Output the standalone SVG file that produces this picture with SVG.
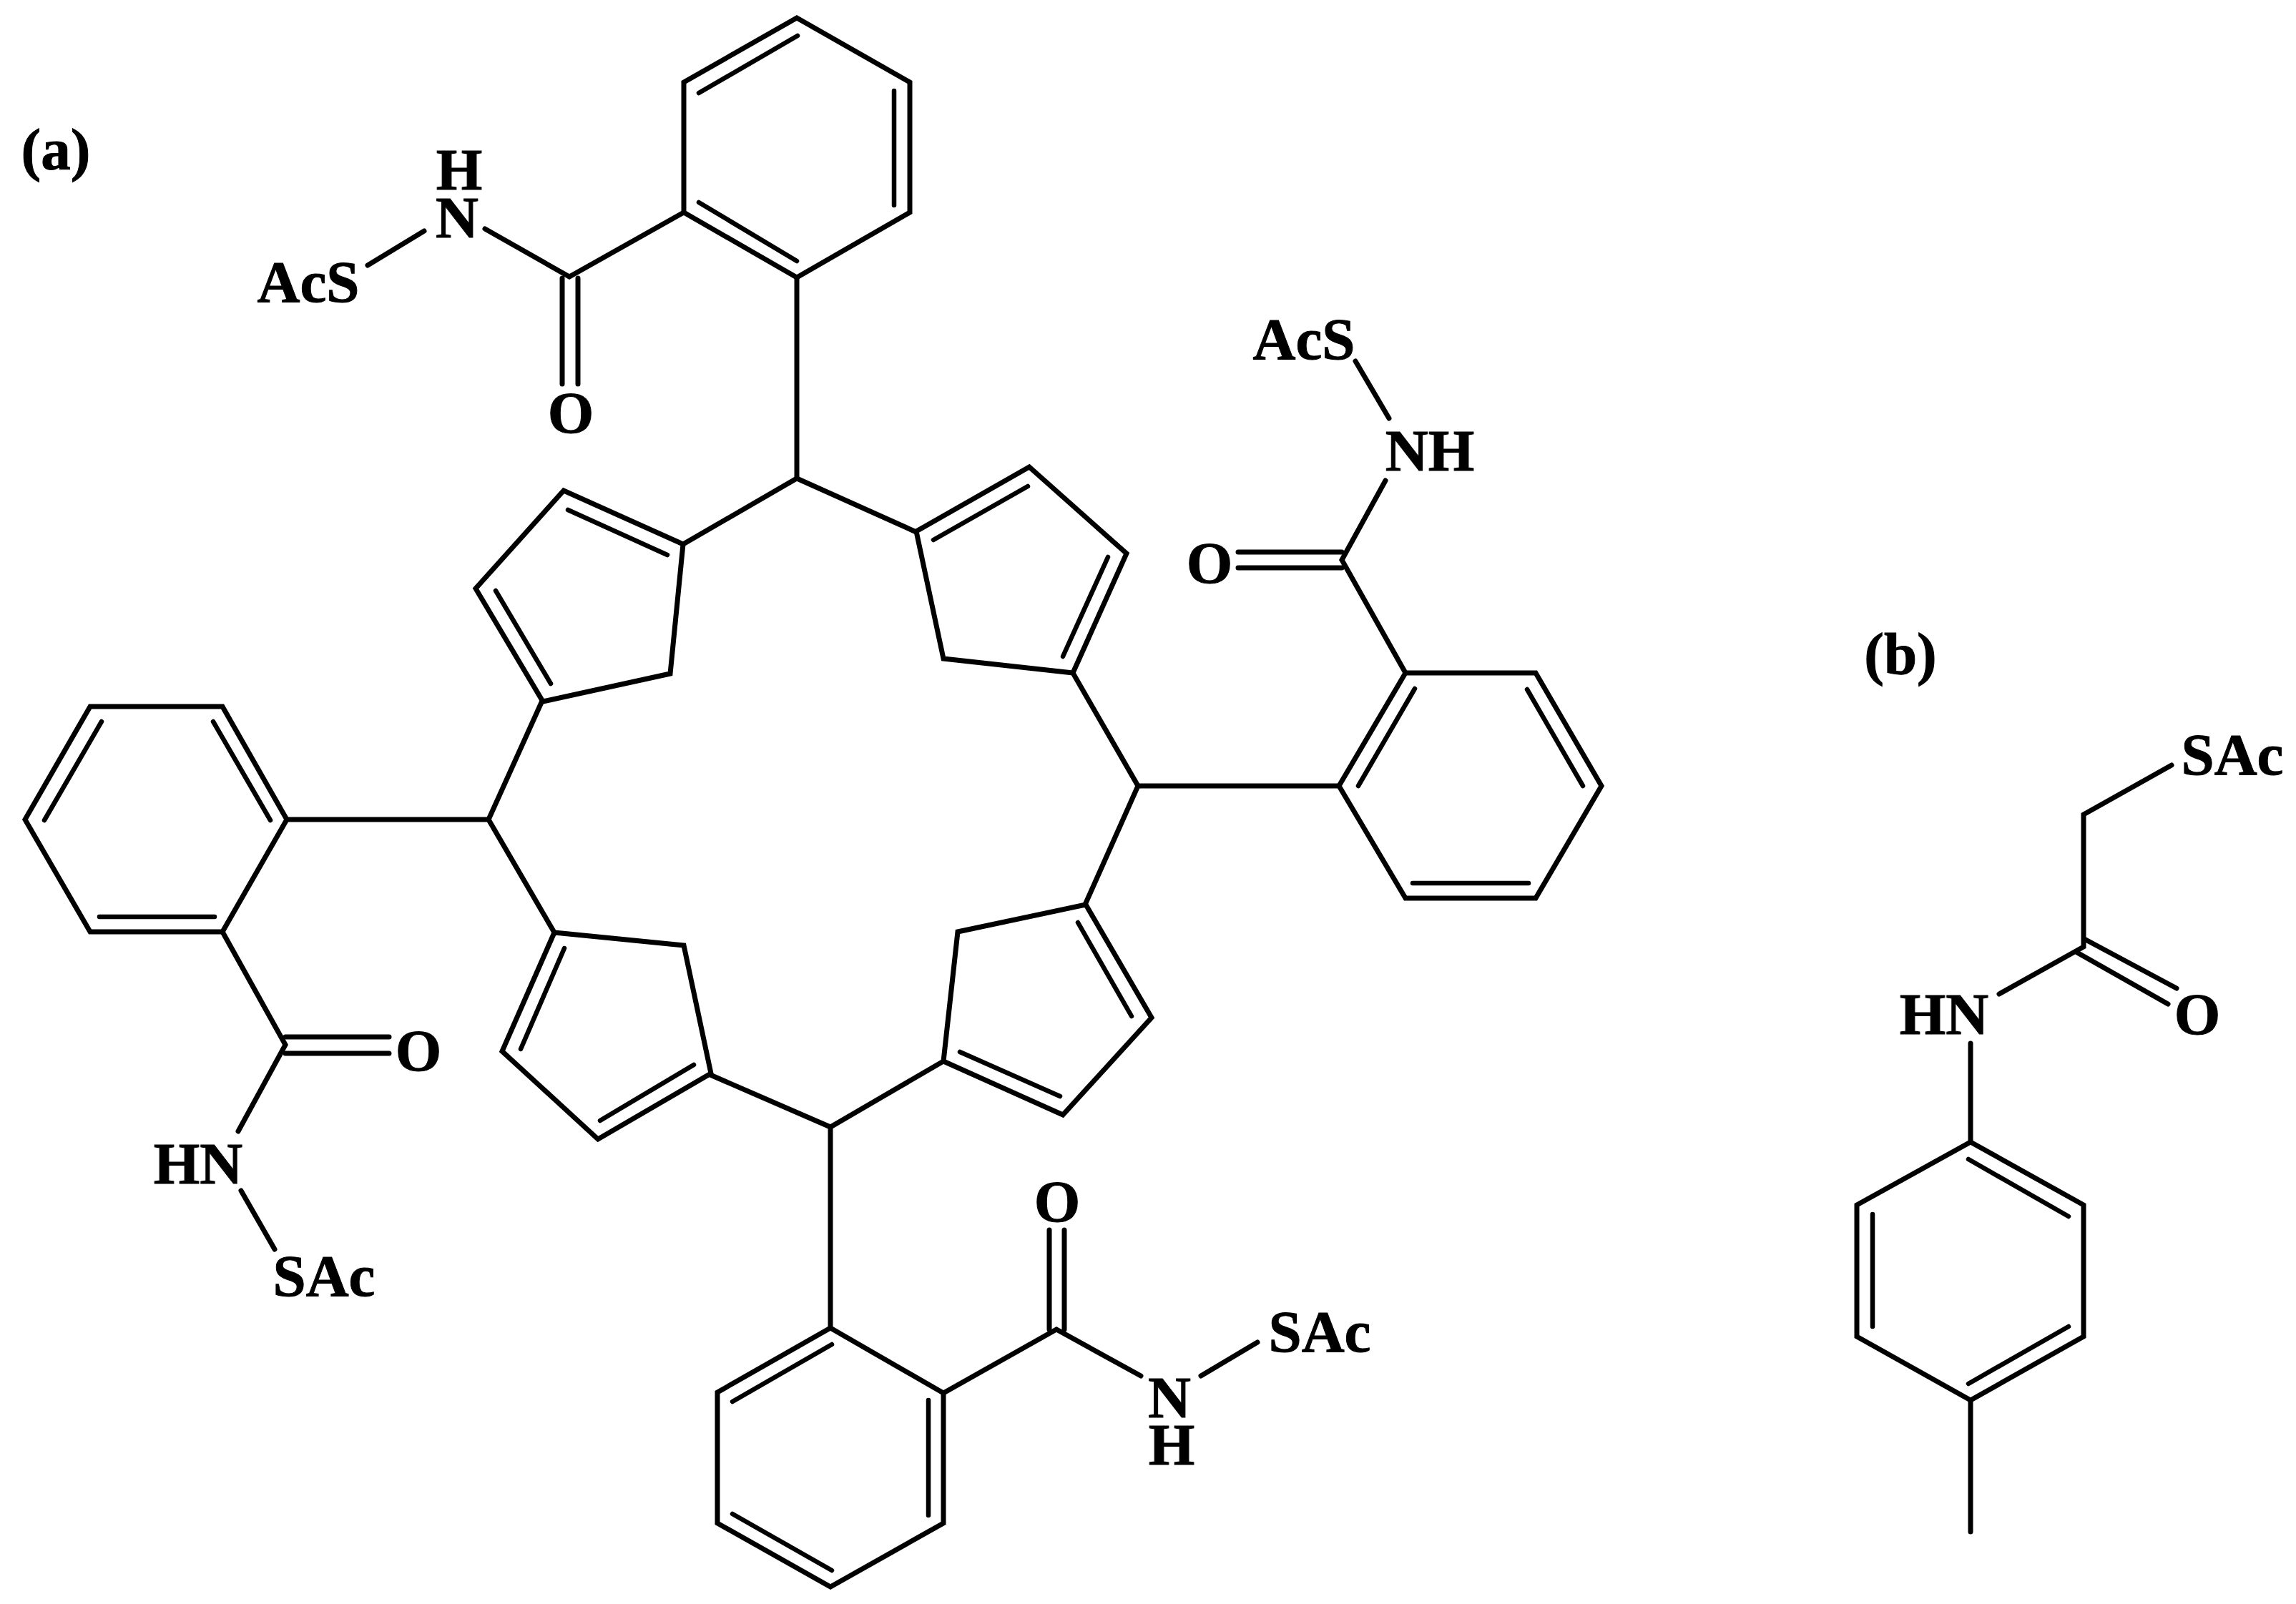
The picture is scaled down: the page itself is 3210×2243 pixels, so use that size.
<svg xmlns="http://www.w3.org/2000/svg" width="3210" height="2243" viewBox="0 0 3210 2243">
<style>
.b{fill:none;stroke:#000;stroke-width:7;stroke-linecap:round;stroke-linejoin:miter}
.i{fill:none;stroke:#000;stroke-width:6.5;stroke-linecap:round}
text{font-family:"Liberation Serif","Times New Roman",serif;font-weight:bold;font-size:83px;fill:#000;stroke:#000;stroke-width:1;text-anchor:middle}
</style>
<rect width="3210" height="2243" fill="#fff"/>
<g id="connectors">
<path class="b" d="M1114 388V669"/>
<path class="b" d="M955 761L1114 669L1281 744"/>
<path class="b" d="M1500 941L1591 1099L1517 1265"/>
<path class="b" d="M1591 1099H1872"/>
<path class="b" d="M993 1503L1161 1576L1319 1484"/>
<path class="b" d="M1161 1576V1857"/>
<path class="b" d="M758 980L683 1146L775 1304"/>
<path class="b" d="M683 1146H401"/>
<path class="b" d="M956 297L796 387L678 320"/>
<path class="b" d="M593 323L514 371"/>
<path class="b" d="M786 389V537M808 389V537"/>
<path class="b" d="M1965 941L1876 783L1937 672"/>
<path class="b" d="M1942 585L1895 505"/>
<path class="b" d="M1876 772H1731M1876 794H1731"/>
<path class="b" d="M311 1303L399 1461L333 1582"/>
<path class="b" d="M337 1665L384 1747"/>
<path class="b" d="M399 1450H544M399 1473H544"/>
<path class="b" d="M1319 1948L1477 1859L1595 1924"/>
<path class="b" d="M1679 1924L1758 1877"/>
<path class="b" d="M1467 1859V1720M1488 1859V1720"/>
<path class="b" d="M3036 1070L2913 1139V1324L2795 1390"/>
<path class="b" d="M2914 1313L3043 1382M2904 1332L3031 1404"/>
<path class="b" d="M2755 1459V1597"/>
<path class="b" d="M2755 1958V2142"/>
</g>
<g id="benzene-top">
<path class="b" d="M1114 25L1272 115V297L1114 388L956 297V115Z"/>
<path class="i" d="M1115 50L977 130M1250 127V287M977 283L1114 365"/>
</g>
<g id="benzene-right">
<path class="b" d="M1872 1099L1965 941H2147L2239 1099L2147 1256H1965Z"/>
<path class="i" d="M1978 963L1899 1099M2135 964L2213 1099M1975 1235H2137"/>
</g>
<g id="benzene-left">
<path class="b" d="M126 988H311L401 1146L311 1303H126L35 1146Z"/>
<path class="i" d="M142 1009L62 1147M298 1009L378 1147M139 1282H300"/>
</g>
<g id="benzene-bottom">
<path class="b" d="M1161 1857L1319 1948V2130L1161 2219L1003 2130V1947Z"/>
<path class="i" d="M1163 1880L1024 1960M1298 1958V2119M1163 2196L1024 2117"/>
</g>
<g id="benzene-b">
<path class="b" d="M2755 1597L2913 1685V1869L2755 1958L2596 1869V1685Z"/>
<path class="i" d="M2752 1621L2892 1701M2618 1698V1855M2752 1935L2892 1855"/>
</g>
<g id="ring-top-left">
<path class="b" d="M955 761L788 686L665 823L759 981L937 942Z"/>
<path class="i" d="M794 713L933 776M693 826L770 956"/>
</g>
<g id="ring-top-right">
<path class="b" d="M1281 743L1439 653L1575 774L1500 941L1319 921Z"/>
<path class="i" d="M1305 755L1437 680M1549 779L1486 918"/>
</g>
<g id="ring-bottom-left">
<path class="b" d="M775 1304L956 1322L994 1501L836 1593L702 1470Z"/>
<path class="i" d="M789 1326L728 1467M970 1489L839 1567"/>
</g>
<g id="ring-bottom-right">
<path class="b" d="M1319 1484L1339 1303L1518 1265L1610 1423L1486 1559Z"/>
<path class="i" d="M1342 1471L1482 1533M1507 1290L1582 1421"/>
</g>
<g id="label-a"><text x="78" y="237">(a)</text></g>
<g id="label-b"><text x="2657" y="942">(b)</text></g>
<g id="group-top"><text><tspan x="642" y="265">H</tspan><tspan x="639" y="332">N</tspan></text><text x="431" y="422">AcS</text><text x="798" y="605">O</text></g>
<g id="group-right"><text x="1823" y="502">AcS</text><text x="1999" y="658">NH</text><text x="1691" y="815">O</text></g>
<g id="group-left"><text x="585" y="1497">O</text><text x="277" y="1655">HN</text><text x="453" y="1812">SAc</text></g>
<g id="group-bottom"><text x="1478" y="1708">O</text><text x="1845" y="1890">SAc</text><text><tspan x="1635" y="1982">N</tspan><tspan x="1638" y="2048">H</tspan></text></g>
<g id="group-b"><text x="3121" y="1083">SAc</text><text x="3072" y="1446">O</text><text x="2718" y="1446">HN</text></g>
</svg>
